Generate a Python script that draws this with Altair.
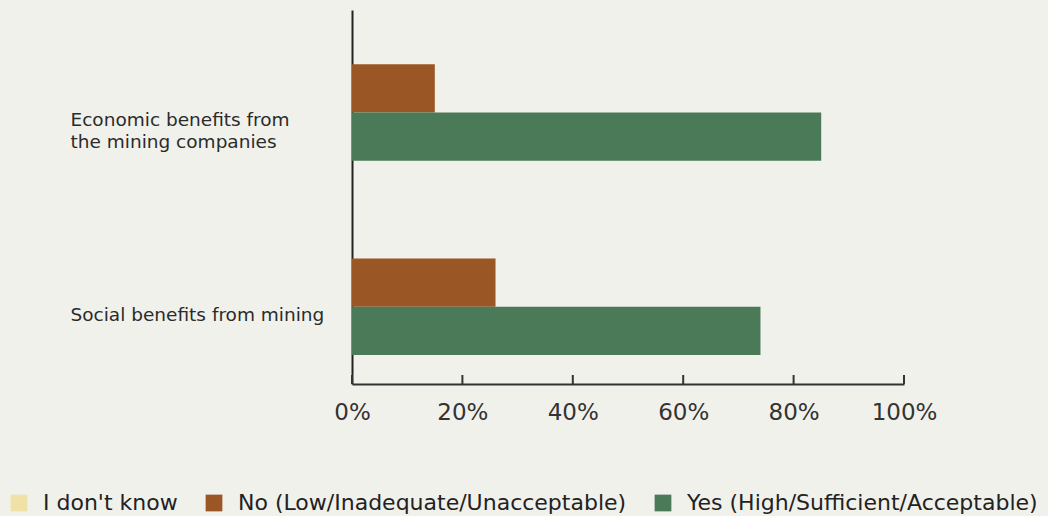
import altair as alt
import pandas as pd

# Survey results: share of respondents per answer, by benefit type
categories = ["Economic benefits from|the mining companies", "Social benefits from mining"]
responses = ["I don't know", "No (Low/Inadequate/Unacceptable)", "Yes (High/Sufficient/Acceptable)"]
colors = ["#f0e2a6", "#9a5624", "#4b7a58"]
dont_know = [0, 0]
no_values = [15, 26]
yes_values = [85, 74]
tick_values = [0, 20, 40, 60, 80, 100]

rows = []
for i, cat in enumerate(categories):
    for resp, vals in zip(responses, [dont_know, no_values, yes_values]):
        rows.append({"category": cat, "response": resp, "value": vals[i]})
df = pd.DataFrame(rows)
ticks_df = pd.DataFrame({"tick": tick_values})

FONT = "DejaVu Sans"
W, H = 552, 374

x_scale = alt.Scale(domain=[0, 100], nice=False)

bars = alt.Chart(df).mark_bar().encode(
    x=alt.X(
        "value:Q",
        scale=x_scale,
        axis=alt.Axis(
            values=tick_values,
            labelExpr="datum.value + '%'",
            title=None,
            grid=False,
            ticks=False,
            tickSize=0,
            domainColor="#333333",
            domainWidth=2,
            labelFontSize=23,
            labelColor="#333333",
            labelPadding=28,
            labelAlign="center",
            labelFlush=False,
            labelBaseline="middle",
            labelFont=FONT,
        ),
    ),
    y=alt.Y(
        "category:N",
        sort=categories,
        scale=alt.Scale(paddingInner=0.254, paddingOuter=0.09, align=0.17),
        axis=alt.Axis(
            title=None,
            ticks=False,
            tickSize=0,
            domainColor="#222222",
            domainWidth=2,
            labelAlign="left",
            labelPadding=282,
            labelFontSize=18.5,
            labelColor="#2b2b2b",
            labelFont=FONT,
            labelLineHeight=22,
            labelLimit=0,
            labelExpr="split(datum.label, '|')",
            labelOffset=32,
        ),
    ),
    yOffset=alt.YOffset("response:N", sort=responses, scale=alt.Scale(paddingInner=0, paddingOuter=0)),
    color=alt.Color(
        "response:N",
        sort=responses,
        scale=alt.Scale(domain=responses, range=colors),
        legend=alt.Legend(
            title=None,
            orient="none",
            legendX=-344,
            legendY=482,
            direction="horizontal",
            symbolType="square",
            symbolSize=280,
            symbolStrokeWidth=0,
            labelFontSize=22,
            labelColor="#222222",
            labelFont=FONT,
            labelOffset=13,
            columnPadding=25,
            labelLimit=0,
        ),
    ),
)

# Tick marks drawn upward from the x-axis line
tick_marks = alt.Chart(ticks_df).mark_rule(color="#333333", strokeWidth=2).encode(
    x=alt.X("tick:Q", scale=x_scale),
    y=alt.value(H - 9),
    y2=alt.value(H),
)

chart = (
    alt.layer(bars, tick_marks)
    .properties(
        width=W,
        height=H,
        background="#f1f1ec",
        autosize=alt.AutoSizeParams(type="none"),
        padding={"left": 352, "top": 10, "right": 144, "bottom": 132},
    )
    .configure_view(stroke=None)
)

chart.save("out.html", embed_options={"renderer": "svg", "actions": False})
